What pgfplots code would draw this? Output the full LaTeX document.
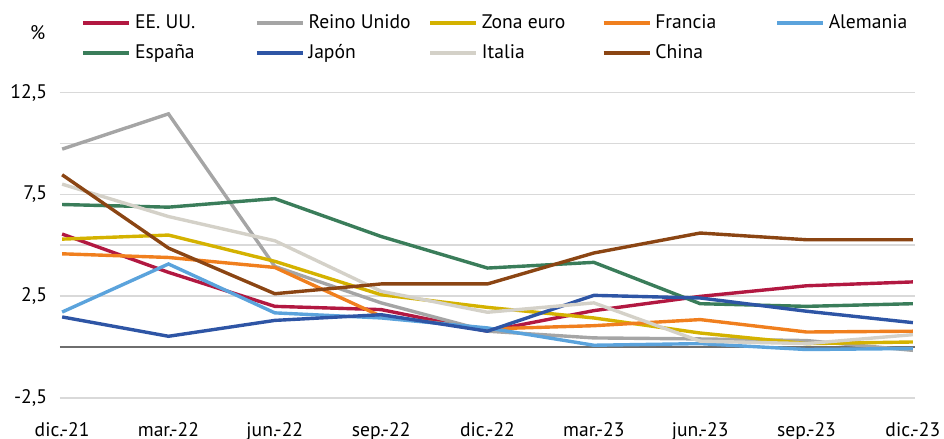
\documentclass[border=0pt]{standalone}
\usepackage{pgfplots}
\pgfplotsset{compat=1.18}
\usepackage{pgfplotstable}
\usepackage{fontspec}
\setmainfont{PT Sans}
\definecolor{cUS}{RGB}{178,24,65}
\definecolor{cUK}{RGB}{165,165,165}
\definecolor{cEZ}{RGB}{212,178,0}
\definecolor{cFR}{RGB}{240,127,30}
\definecolor{cDE}{RGB}{91,163,220}
\definecolor{cES}{RGB}{58,125,90}
\definecolor{cJP}{RGB}{46,85,165}
\definecolor{cIT}{RGB}{212,209,200}
\definecolor{cCN}{RGB}{139,69,19}
\definecolor{cgrid}{RGB}{217,217,217}
\definecolor{czero}{RGB}{110,110,110}
\pgfplotstableread{
x US UK EZ FR DE ES JP IT CN
0 5.55 9.72 5.30 4.58 1.72 7.00 1.48 8.00 8.46
1 3.67 11.45 5.50 4.40 4.08 6.87 0.53 6.41 4.86
2 2.00 3.96 4.21 3.91 1.68 7.29 1.31 5.22 2.62
3 1.84 2.17 2.57 1.51 1.43 5.43 1.59 2.74 3.10
4 0.78 0.78 1.95 0.89 0.94 3.88 0.78 1.71 3.10
5 1.79 0.45 1.43 1.05 0.09 4.16 2.54 2.17 4.62
6 2.49 0.40 0.69 1.35 0.17 2.13 2.41 0.29 5.60
7 3.01 0.32 0.17 0.74 -0.12 2.00 1.76 0.17 5.27
8 3.20 -0.16 0.25 0.78 -0.07 2.13 1.20 0.61 5.27
}\datatable
\newcommand{\lb}[1]{\makebox[58pt][l]{#1}}
\begin{document}
\begin{tikzpicture}
\useasboundingbox (0,0) rectangle (472pt,219.5pt);
\begin{axis}[
  at={(30pt,20.5pt)}, anchor=south west,
  scale only axis, width=427.5pt, height=152.75pt,
  xmin=-0.02, xmax=8.02, ymin=-2.5, ymax=12.5,
  clip=false,
  font=\fontsize{9.8}{11}\selectfont,
  axis line style={draw=none}, tick style={draw=none},
  xtick={0,...,8},
  xticklabels={dic.-21,mar.-22,jun.-22,sep.-22,dic.-22,mar.-23,jun.-23,sep.-23,dic.-23},
  xticklabel style={yshift=-8.5pt},
  ytick={-2.5,2.5,7.5,12.5},
  yticklabels={-2{,}5,2{,}5,7{,}5,12{,}5},
  yticklabel style={xshift=-3pt},
  minor ytick={0,5,10},
  ymajorgrids, yminorgrids,
  major grid style={cgrid,line width=0.75pt},
  minor grid style={cgrid,line width=0.75pt},
  every axis plot/.append style={line width=1.7pt, no markers},
  legend columns=5,
  legend cell align=left,
  legend image code/.code={\draw[#1,line width=1.7pt](0pt,0pt)--(23pt,0pt);},
  legend style={draw=none, fill=none, at={(axis description cs:0.025,1.27)}, anchor=north west,
    font=\fontsize{9.8}{11}\selectfont, inner sep=0pt, row sep=2.5pt,
    nodes={inner sep=2pt}},
]
\draw[czero,line width=0.9pt] (axis cs:-0.02,0) -- (axis cs:8.02,0);
\addplot[cUS] table[x=x,y=US]{\datatable}; \addlegendentry{\lb{EE. UU.}}
\addplot[cUK] table[x=x,y=UK]{\datatable}; \addlegendentry{\lb{Reino Unido}}
\addplot[cEZ] table[x=x,y=EZ]{\datatable}; \addlegendentry{\lb{Zona euro}}
\addplot[cFR] table[x=x,y=FR]{\datatable}; \addlegendentry{\lb{Francia}}
\addplot[cDE] table[x=x,y=DE]{\datatable}; \addlegendentry{Alemania}
\addplot[cES] table[x=x,y=ES]{\datatable}; \addlegendentry{\lb{España}}
\addplot[cJP] table[x=x,y=JP]{\datatable}; \addlegendentry{\lb{Japón}}
\addplot[cIT] table[x=x,y=IT]{\datatable}; \addlegendentry{\lb{Italia}}
\addplot[cCN] table[x=x,y=CN]{\datatable}; \addlegendentry{\lb{China}}
\node[font=\fontsize{9.8}{11}\selectfont] at (rel axis cs:-0.026,1.195) {\%};
\end{axis}
\end{tikzpicture}
\end{document}
